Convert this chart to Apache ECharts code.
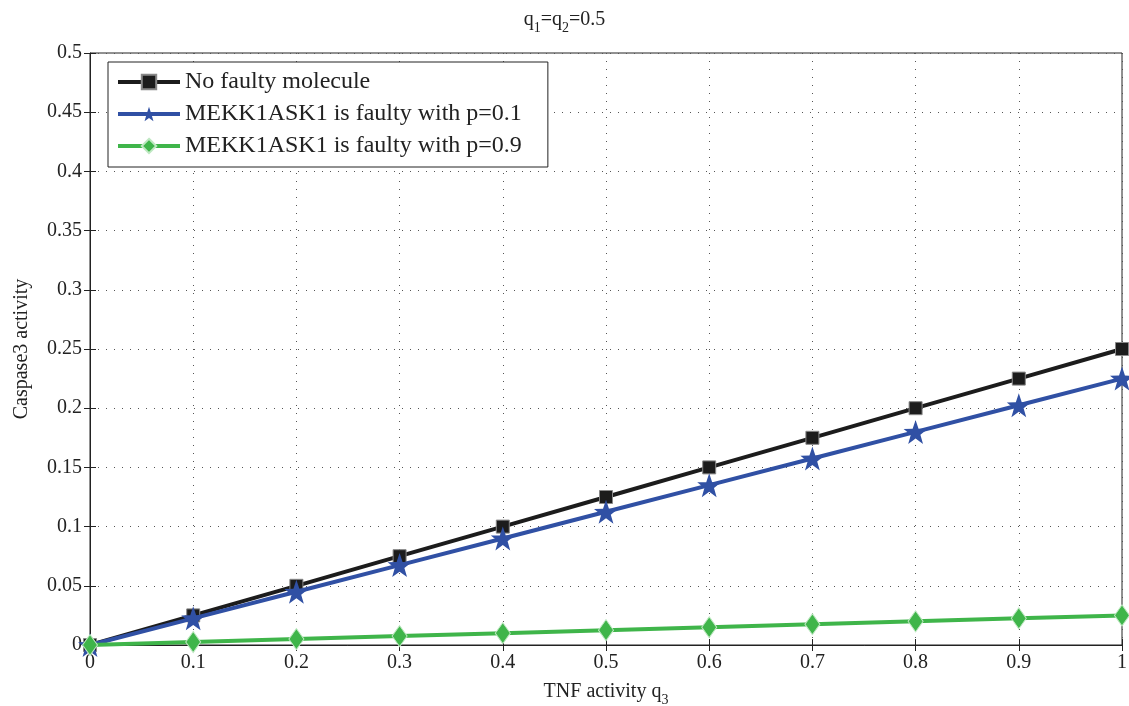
<!DOCTYPE html>
<html>
<head>
<meta charset="utf-8">
<script src="https://cdn.jsdelivr.net/npm/echarts@6/dist/echarts.min.js"></script>
<style>
  html, body { margin: 0; padding: 0; background: #fff; }
  #main { width: 1129px; height: 706px; }
</style>
</head>
<body>
<div id="main"></div>
<script>
// x values (TNF activity q3)
var xVals = [0, 0.1, 0.2, 0.3, 0.4, 0.5, 0.6, 0.7, 0.8, 0.9, 1];
// Caspase3 activity per case
var noFault = [0, 0.025, 0.05, 0.075, 0.1, 0.125, 0.15, 0.175, 0.2, 0.225, 0.25];
var faultP01 = [0, 0.0225, 0.045, 0.0675, 0.09, 0.1125, 0.135, 0.1575, 0.18, 0.2025, 0.225];
var faultP09 = [0, 0.0025, 0.005, 0.0075, 0.01, 0.0125, 0.015, 0.0175, 0.02, 0.0225, 0.025];
var seriesNames = ['No faulty molecule', 'MEKK1ASK1 is faulty with p=0.1', 'MEKK1ASK1 is faulty with p=0.9'];

var font = 'Liberation Serif';
var star = 'path://M0,-10 L2.35,-3.24 9.51,-3.09 3.8,1.24 5.88,8.09 0,4 -5.88,8.09 -3.8,1.24 -9.51,-3.09 -2.35,-3.24 Z';

function pairs(ys) {
  return xVals.map(function (x, i) { return [x, ys[i]]; });
}

var chart = echarts.init(document.getElementById('main'));

var subRich = {
  a: { fontFamily: font, fontSize: 20, fontWeight: 'normal', color: '#222' },
  s: { fontFamily: font, fontSize: 14, fontWeight: 'normal', color: '#222', padding: [16, 0, 0, 0] }
};

var option = {
  animation: false,
  backgroundColor: '#fff',
  textStyle: { fontFamily: font, color: '#222' },
  title: {
    text: '{a|q}{s|1}{a|=q}{s|2}{a|=0.5}',
    left: 'center',
    top: 0,
    textStyle: { fontWeight: 'normal', rich: subRich }
  },
  grid: {
    left: 90, right: 7, top: 53, bottom: 61,
    outerBoundsMode: 'none',
    show: true, borderColor: '#222', borderWidth: 1
  },
  legend: {
    orient: 'vertical',
    left: 108,
    top: 62,
    padding: [8, 26, 9, 8],
    itemGap: 8,
    itemWidth: 62,
    itemHeight: 18,
    backgroundColor: '#fff',
    borderColor: '#222',
    borderWidth: 1,
    lineStyle: { width: 4 },
    textStyle: { fontFamily: font, fontSize: 24, color: '#222' },
    data: seriesNames
  },
  xAxis: [{
    type: 'value', min: 0, max: 1, interval: 0.1,
    name: '{a|TNF activity q}{s|3}',
    nameLocation: 'middle', nameGap: 32,
    nameTextStyle: { rich: subRich },
    axisLine: { lineStyle: { color: '#222' } },
    axisTick: { inside: true, length: 6, lineStyle: { color: '#222' } },
    axisLabel: { fontFamily: font, fontSize: 20, color: '#222', margin: 8 },
    splitLine: { show: true, lineStyle: { color: '#555', type: [1, 7], width: 1 } }
  }, {
    type: 'value', min: 0, max: 1, interval: 0.1, position: 'top',
    axisLine: { show: false },
    axisTick: { inside: true, length: 6, lineStyle: { color: '#222' } },
    axisLabel: { show: false },
    splitLine: { show: false }
  }],
  yAxis: [{
    type: 'value', min: 0, max: 0.5, interval: 0.05,
    name: 'Caspase3 activity',
    nameLocation: 'middle', nameGap: 58,
    nameTextStyle: { fontFamily: font, fontSize: 20, color: '#222' },
    axisLine: { show: true, lineStyle: { color: '#222' } },
    axisTick: { show: true, inside: true, length: 6, lineStyle: { color: '#222' } },
    axisLabel: { fontFamily: font, fontSize: 20, color: '#222', margin: 8 },
    splitLine: { show: true, lineStyle: { color: '#555', type: [1, 7], width: 1 } }
  }, {
    type: 'value', min: 0, max: 0.5, interval: 0.05, position: 'right',
    axisLine: { show: false },
    axisTick: { show: true, inside: true, length: 6, lineStyle: { color: '#222' } },
    axisLabel: { show: false },
    splitLine: { show: false }
  }],
  series: [{
    name: seriesNames[0],
    type: 'line',
    data: pairs(noFault),
    symbol: 'rect',
    symbolSize: 13,
    showAllSymbol: true,
    lineStyle: { color: '#1c1c1c', width: 4 },
    itemStyle: { color: '#1c1c1c', borderColor: '#888', borderWidth: 1 },
    z: 3
  }, {
    name: seriesNames[1],
    type: 'line',
    data: pairs(faultP01),
    symbol: star,
    symbolSize: 24,
    showAllSymbol: true,
    lineStyle: { color: '#3050a4', width: 4 },
    itemStyle: { color: '#3050a4' },
    z: 4
  }, {
    name: seriesNames[2],
    type: 'line',
    data: pairs(faultP09),
    symbol: 'diamond',
    symbolSize: [15, 21],
    showAllSymbol: true,
    lineStyle: { color: '#3fb54a', width: 4 },
    itemStyle: { color: '#3fb54a', borderColor: '#bfe8c2', borderWidth: 1 },
    z: 5
  }]
};

chart.setOption(option);
</script>
</body>
</html>
